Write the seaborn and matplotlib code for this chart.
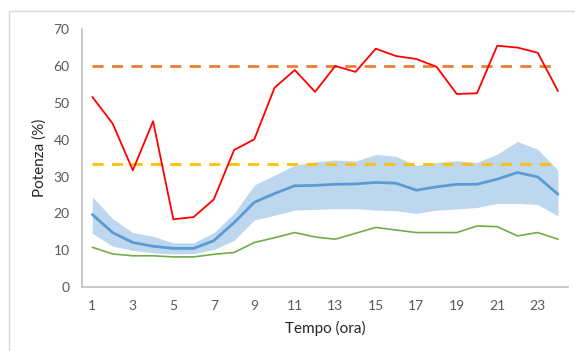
import numpy as np
import pandas as pd
import matplotlib
matplotlib.use("Agg")
import matplotlib.pyplot as plt
from matplotlib.lines import Line2D
import seaborn as sns

hours = list(range(1, 25))
picco = [51.6, 44.4, 31.7, 45.0, 18.4, 19.0, 23.8, 37.2, 40.1, 54.1, 58.9, 53.0,
         60.0, 58.4, 64.7, 62.7, 61.9, 59.8, 52.4, 52.6, 65.5, 65.0, 63.6, 53.2]
media = [19.7, 14.8, 12.1, 11.1, 10.5, 10.5, 12.6, 17.5, 23.0, 25.4, 27.5, 27.6,
         27.9, 28.0, 28.4, 28.2, 26.3, 27.2, 27.9, 27.9, 29.3, 31.1, 29.9, 25.2]
banda_sup = [24.5, 18.6, 14.8, 13.8, 12.0, 12.0, 14.8, 20.0, 27.7, 30.4, 33.1, 34.0,
             34.5, 34.2, 36.0, 35.5, 33.0, 33.8, 34.3, 33.8, 36.1, 39.5, 37.4, 31.7]
banda_inf = [14.6, 11.1, 10.0, 9.3, 9.0, 9.1, 10.2, 12.7, 18.2, 19.5, 20.9, 21.1,
             21.3, 21.3, 20.9, 20.7, 20.0, 20.9, 21.2, 21.6, 22.7, 22.7, 22.4, 19.3]
minimo = [10.8, 9.0, 8.5, 8.5, 8.2, 8.2, 8.9, 9.4, 12.1, 13.4, 14.8, 13.6,
          13.0, 14.6, 16.2, 15.5, 14.8, 14.8, 14.8, 16.6, 16.4, 13.9, 14.8, 13.0]
soglia_alta = 60.0
soglia_bassa = 33.3
xticks = list(range(1, 25, 2))
yticks = list(range(0, 71, 10))

df = pd.DataFrame({"ora": hours, "picco": picco, "media": media,
                   "sup": banda_sup, "inf": banda_inf, "min": minimo})

sns.set_theme(style="white")
plt.rcParams["font.family"] = ["Lato", "DejaVu Sans"]

fig = plt.figure(figsize=(5.75, 3.51), dpi=100)
ax = fig.add_axes([0.143, 0.182, 0.845, 0.735])

ax.fill_between(df["ora"], df["inf"], df["sup"], color="#BDD7EE", lw=0, zorder=1)
sns.lineplot(data=df, x="ora", y="min", color="#70AD47", lw=1.2, ax=ax, zorder=3)
sns.lineplot(data=df, x="ora", y="media", color="#5B9BD5", lw=2.0, ax=ax, zorder=3)
sns.lineplot(data=df, x="ora", y="picco", color="#FF0000", lw=1.3, ax=ax, zorder=4)
ax.plot([hours[0], hours[-1]], [soglia_alta] * 2, color="#ED7D31", lw=2.0,
        ls=(0, (4, 3)), zorder=2)
ax.plot([hours[0], hours[-1]], [soglia_bassa] * 2, color="#FFC000", lw=2.0,
        ls=(0, (4, 3)), zorder=2)

ax.set_xlim(0.5, 24.5)
ax.set_ylim(0, 70)
ax.set_xticks(xticks)
ax.set_yticks(yticks)
ax.tick_params(axis="both", length=0, labelsize=10, labelcolor="#595959")
ax.tick_params(axis="x", pad=9)
ax.tick_params(axis="y", pad=9)
for s in ["top", "right"]:
    ax.spines[s].set_visible(False)
for s in ["left", "bottom"]:
    ax.spines[s].set_color("#BFBFBF")
    ax.spines[s].set_linewidth(1.2)
ax.set_xlabel("Tempo (ora)", fontsize=11, color="#262626", labelpad=7)
ax.set_ylabel("Potenza (%)", fontsize=11, color="#262626", labelpad=5)

# chart frame
fig.add_artist(Line2D([9 / 575, 1.0], [1 - 11 / 351] * 2, color="#D9D9D9", lw=1.0))
fig.add_artist(Line2D([9 / 575] * 2, [0.0, 1 - 11 / 351], color="#D9D9D9", lw=1.0))

fig.savefig("out.png", dpi=100, facecolor="white")
